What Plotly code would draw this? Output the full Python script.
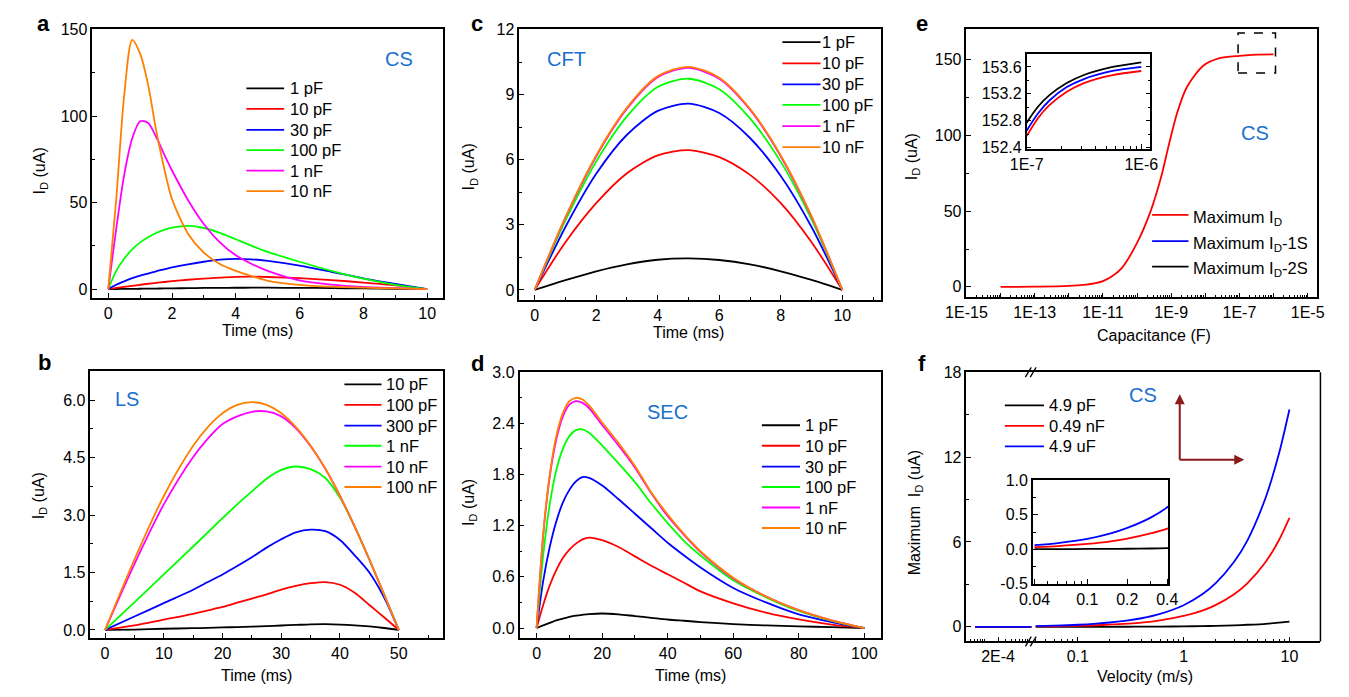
import plotly.graph_objects as go

W, H = 1349, 697
FONT = "Arial, Liberation Sans, sans-serif"
CS_BLUE = "#1a6fcf"
COLORS = ["#000000", "#FF0000", "#0000FF", "#00FF00", "#FF00FF", "#FF8000"]

# ---- panel a: CS, time in ms ----
time_a = [0, 0.25, 0.5, 0.75, 1.0, 1.25, 1.5, 1.75, 2.0, 2.5, 3.0, 3.5, 4.0, 4.5, 5, 6, 7, 8, 9, 10]
labels_a = ["1 pF", "10 pF", "30 pF", "100 pF", "1 nF", "10 nF"]
id_a_1pF = [0, 0.05, 0.1, 0.15, 0.2, 0.25, 0.32, 0.38, 0.45, 0.55, 0.65, 0.72, 0.78, 0.8, 0.8, 0.72, 0.58, 0.4, 0.2, 0]
id_a_10pF = [0, 0.7, 1.3, 1.9, 2.5, 3.1, 3.6, 4.1, 4.6, 5.4, 6.1, 6.6, 7.1, 7.2, 7.0, 6.3, 5.2, 3.8, 2.1, 0]
id_a_30pF = [0, 2.5, 4.5, 6.3, 7.8, 9.0, 10.3, 11.4, 12.5, 14.3, 15.8, 17.0, 17.5, 17.2, 16.3, 13.6, 10.0, 6.2, 3.0, 0]
id_a_100pF = [0, 10.5, 17.5, 23, 27, 30, 32.4, 34.2, 35.5, 36.5, 35.3, 32.5, 28.8, 25, 21.5, 15.8, 10.5, 6.0, 2.5, 0]
id_a_1nF = [0, 35, 66, 87, 97, 96, 88, 78, 68.5, 51.5, 37.5, 27, 19.5, 14.5, 10.5, 5, 2.6, 1.3, 0.6, 0]
id_a_10nF = [0, 52, 112, 144, 136, 118, 92, 70, 52, 32, 21, 14.5, 10.5, 7.5, 4.8, 2.5, 1.4, 0.8, 0.4, 0]

# ---- panel c: CFT ----
time_c = [0, 1, 2, 3, 4, 5, 6, 7, 8, 9, 10]
labels_c = ["1 pF", "10 pF", "30 pF", "100 pF", "1 nF", "10 nF"]
id_c_1pF = [0, 0.45, 0.86, 1.18, 1.39, 1.45, 1.38, 1.18, 0.86, 0.46, 0]
id_c_10pF = [0, 2.2, 4.0, 5.38, 6.2, 6.44, 6.12, 5.3, 4.0, 2.2, 0]
id_c_30pF = [0, 2.9, 5.35, 7.15, 8.25, 8.58, 8.15, 7.0, 5.25, 2.9, 0]
id_c_100pF = [0, 3.2, 5.92, 8.0, 9.35, 9.73, 9.25, 7.9, 5.9, 3.25, 0]
id_c_1nF = [0, 3.33, 6.15, 8.35, 9.8, 10.23, 9.73, 8.3, 6.15, 3.37, 0]
id_c_10nF = [0, 3.35, 6.2, 8.4, 9.85, 10.28, 9.78, 8.35, 6.2, 3.4, 0]

# ---- panel b: LS ----
time_b = [0, 5, 10, 15, 17.5, 20, 22.5, 25, 27.5, 30, 32.5, 35, 37.5, 40, 42.5, 45, 47.5, 50]
labels_b = ["10 pF", "100 pF", "300 pF", "1 nF", "10 nF", "100 nF"]
id_b_10pF = [0, 0.01, 0.03, 0.045, 0.055, 0.065, 0.075, 0.085, 0.1, 0.115, 0.13, 0.145, 0.15, 0.14, 0.12, 0.09, 0.05, 0]
id_b_100pF = [0, 0.12, 0.27, 0.42, 0.51, 0.6, 0.71, 0.82, 0.93, 1.05, 1.15, 1.22, 1.25, 1.18, 0.97, 0.65, 0.33, 0]
id_b_300pF = [0, 0.35, 0.7, 1.05, 1.25, 1.45, 1.67, 1.9, 2.15, 2.37, 2.55, 2.62, 2.58, 2.35, 1.95, 1.5, 0.85, 0]
id_b_1nF = [0, 0.72, 1.45, 2.18, 2.55, 2.92, 3.28, 3.62, 3.95, 4.18, 4.27, 4.2, 3.97, 3.45, 2.7, 1.84, 0.93, 0]
id_b_10nF = [0, 1.72, 3.28, 4.52, 5.0, 5.38, 5.58, 5.7, 5.71, 5.58, 5.27, 4.8, 4.21, 3.5, 2.7, 1.84, 0.93, 0]
id_b_100nF = [0, 1.84, 3.5, 4.81, 5.3, 5.66, 5.88, 5.95, 5.88, 5.66, 5.3, 4.81, 4.21, 3.5, 2.7, 1.84, 0.93, 0]

# ---- panel d: SEC ----
time_d = [0, 2, 4, 6, 8, 10, 12, 14, 16, 20, 25, 30, 35, 40, 45, 50, 60, 70, 80, 90, 100]
labels_d = ["1 pF", "10 pF", "30 pF", "100 pF", "1 nF", "10 nF"]
id_d_1pF = [0, 0.03, 0.06, 0.09, 0.11, 0.13, 0.145, 0.155, 0.163, 0.17, 0.16, 0.14, 0.12, 0.1, 0.085, 0.07, 0.046,
            0.03, 0.02, 0.01, 0]
id_d_10pF = [0, 0.27, 0.5, 0.68, 0.82, 0.92, 0.99, 1.04, 1.06, 1.03, 0.95, 0.84, 0.73, 0.63, 0.53, 0.43, 0.29, 0.18,
             0.1, 0.04, 0]
id_d_30pF = [0, 0.55, 0.95, 1.25, 1.47, 1.62, 1.72, 1.77, 1.76, 1.67, 1.51, 1.34, 1.17, 1.0, 0.85, 0.71, 0.47, 0.3,
             0.16, 0.07, 0]
id_d_100pF = [0, 0.85, 1.45, 1.85, 2.1, 2.25, 2.32, 2.33, 2.29, 2.14, 1.93, 1.71, 1.46, 1.23, 1.02, 0.85, 0.56, 0.36,
              0.2, 0.085, 0]
id_d_1nF = [0, 1.08, 1.77, 2.21, 2.48, 2.62, 2.66, 2.64, 2.58, 2.38, 2.14, 1.88, 1.58, 1.31, 1.09, 0.89, 0.58, 0.37,
            0.21, 0.09, 0]
id_d_10nF = [0, 1.1, 1.8, 2.25, 2.52, 2.66, 2.7, 2.68, 2.61, 2.41, 2.17, 1.9, 1.59, 1.33, 1.1, 0.9, 0.59, 0.37,
             0.21, 0.09, 0]

# ---- panel e: maximum I_D vs capacitance ----
labels_e = ["Maximum I<sub>D</sub>", "Maximum I<sub>D</sub>-1S", "Maximum I<sub>D</sub>-2S"]
cap_e = [1e-14, 1e-13, 1e-12, 3.2e-12, 5.6e-12, 1e-11, 1.8e-11, 3.5e-11, 1e-10, 2.5e-10, 5e-10, 8.5e-10,
         1.5e-9, 2.9e-9, 8.7e-9, 2.6e-8, 1e-7, 3.2e-7, 1e-6]
max_id_e = [0, 0.1, 0.6, 1.5, 2.3, 3.8, 6.8, 12.2, 29, 50, 72, 93.6, 115, 132, 146, 151, 152.57, 153.36, 153.54]
cap_inset_e = [1e-7, 1.26e-7, 1.58e-7, 2.24e-7, 3.16e-7, 5.62e-7, 1e-6]
inset_e_max = [152.57, 152.84, 153.03, 153.23, 153.36, 153.48, 153.54]
inset_e_1s = [152.65, 152.91, 153.1, 153.3, 153.42, 153.54, 153.6]
inset_e_2s = [152.77, 153.01, 153.18, 153.36, 153.48, 153.6, 153.67]

# ---- panel f: maximum I_D vs velocity ----
labels_f = ["4.9 pF", "0.49 nF", "4.9 uF"]
vel_left = [6.2e-5, 1.1e-3]
id_left = [0, 0]
vel_f = [0.04, 0.06, 0.1, 0.15, 0.2, 0.3, 0.4, 0.6, 1, 1.5, 2, 3, 4, 6, 8, 10]
id_f_49pF = [0.0015, 0.002, 0.004, 0.006, 0.007, 0.011, 0.015, 0.022, 0.037, 0.055, 0.074, 0.11, 0.15, 0.22, 0.3, 0.37]
id_f_049nF = [0.03, 0.046, 0.077, 0.115, 0.155, 0.23, 0.3, 0.46, 0.77, 1.15, 1.54, 2.31, 3.08, 4.62, 6.16, 7.7]
id_f_49uF = [0.06, 0.09, 0.15, 0.23, 0.31, 0.46, 0.61, 0.92, 1.53, 2.3, 3.07, 4.6, 6.1, 9.2, 12.3, 15.36]


def px(x):
    return x / W


def py(y):
    return 1 - y / H


def axis(x0, x1, rng, anchor, minor=None, **kw):
    d = dict(domain=[x0, x1], range=rng, anchor=anchor, showline=True, linecolor="black",
             linewidth=1.5, mirror=True, ticks="inside", ticklen=5, tickwidth=1.3,
             tickcolor="black", showgrid=False, zeroline=False,
             tickfont=dict(size=16, color="black", family=FONT))
    if minor is not None:
        m = dict(ticks="inside", ticklen=3, tickwidth=1.2, tickcolor="black", showgrid=False)
        m.update(minor)
        d["minor"] = m
    d.update(kw)
    return d


fig = go.Figure()


def add_lines(xs, series, xa, ya, colors=COLORS, spline=True):
    for ys, color in zip(series, colors):
        line = dict(color=color, width=1.8)
        if spline:
            line.update(shape="spline", smoothing=0.8)
        fig.add_trace(go.Scatter(x=xs, y=ys, mode="lines", xaxis=xa, yaxis=ya, showlegend=False, line=line))


add_lines(time_a, [id_a_1pF, id_a_10pF, id_a_30pF, id_a_100pF, id_a_1nF, id_a_10nF], "x", "y")
add_lines(time_c, [id_c_1pF, id_c_10pF, id_c_30pF, id_c_100pF, id_c_1nF, id_c_10nF], "x2", "y2")
add_lines(time_b, [id_b_10pF, id_b_100pF, id_b_300pF, id_b_1nF, id_b_10nF, id_b_100nF], "x4", "y4")
add_lines(time_d, [id_d_1pF, id_d_10pF, id_d_30pF, id_d_100pF, id_d_1nF, id_d_10nF], "x5", "y5")

# panel e main + inset
add_lines(cap_e, [max_id_e], "x3", "y3", colors=["#FF0000"])
add_lines(cap_inset_e, [inset_e_2s, inset_e_1s, inset_e_max], "x8", "y8", colors=["#000000", "#0000FF", "#FF0000"])

# panel f: left segment, right segment, inset
f_series = [id_f_49pF, id_f_049nF, id_f_49uF]
f_colors = ["#000000", "#FF0000", "#0000FF"]
add_lines(vel_left, [id_left] * 3, "x6", "y6", colors=f_colors, spline=False)
add_lines(vel_f, f_series, "x7", "y6", colors=f_colors)
add_lines(vel_f, f_series, "x9", "y9", colors=f_colors)

decades_e = [10.0 ** k for k in range(-15, -4)]
minor_e = [m * 10.0 ** k for k in range(-15, -5) for m in range(2, 10)]
minor_f = [m * 10.0 ** k for k in range(-2, 1) for m in range(2, 10)]
minor_left = [m * 1e-5 for m in range(5, 10)] + [1e-4] + [m * 1e-4 for m in range(3, 11)]

fig.update_layout(
    width=W, height=H, autosize=False, showlegend=False,
    margin=dict(l=0, r=0, t=0, b=0),
    paper_bgcolor="white", plot_bgcolor="white",
    font=dict(family=FONT, color="black", size=16),
    # a
    xaxis=axis(px(73), px(432), [-0.5, 10.5], "y", minor=dict(dtick=1), dtick=2, tick0=0),
    yaxis=axis(py(297), py(22), [-5, 150], "x", minor=dict(dtick=25), dtick=50, tick0=0),
    # c
    xaxis2=axis(px(510), px(880), [-0.5, 11.25], "y2", minor=dict(dtick=1), dtick=2, tick0=0),
    yaxis2=axis(py(299), py(22), [-0.45, 12], "x2", minor=dict(dtick=1.5), dtick=3, tick0=0),
    # e
    xaxis3=axis(px(967.7), px(1326.7), [-15.0, -4.72], "y3", type="log",
                tickvals=decades_e, ticktext=["1E%d" % k if k % 2 else " " for k in range(-15, -4)],
                minor=dict(tickvals=minor_e, ticklen=3)),
    yaxis3=axis(py(296.7), py(22), [-7, 170], "x3", minor=dict(dtick=25), dtick=50, tick0=0),
    # b
    xaxis4=axis(px(71), px(432.3), [-2.5, 57.6], "y4", minor=dict(dtick=5), dtick=10, tick0=0),
    yaxis4=axis(py(645.3), py(372.3), [-0.2, 6.76], "x4", minor=dict(dtick=0.75), dtick=1.5, tick0=0,
                tickformat=".1f"),
    # d
    xaxis5=axis(px(510.3), px(880.3), [-5.2, 105.1], "y5", minor=dict(dtick=10), dtick=20, tick0=0),
    yaxis5=axis(py(646), py(373.3), [-0.12, 3.0], "x5", minor=dict(dtick=0.3), dtick=0.6, tick0=0,
                tickformat=".1f"),
    # f left segment / right segment
    xaxis6=axis(px(967.7), px(1035), [-4.4, -2.94], "y6", type="log", tickvals=[2e-4], ticktext=["2E-4"],
                minor=dict(tickvals=minor_left)),
    xaxis7=axis(px(1035), px(1330), [-1.431, 1.293], "y6", type="log", tickvals=[0.1, 1, 10],
                ticktext=["0.1", "1", "10"], minor=dict(tickvals=minor_f)),
    yaxis6=axis(py(649.3), py(373.3), [-1.03, 18], "x6", minor=dict(dtick=3), dtick=6, tick0=0, mirror=False),
    # inset e
    xaxis8=axis(px(1029.3), px(1156), [-7, -5.92], "y8", type="log", tickvals=[1e-7, 1e-6],
                ticktext=["1E-7", "1E-6"], minor=dict(tickvals=[m * 1e-7 for m in range(2, 10)])),
    yaxis8=axis(py(144.3), py(46.7), [152.38, 153.8], "x8", minor=dict(dtick=0.2), dtick=0.4, tick0=152.4,
                tickformat=".1f", mirror="ticks"),
    # inset f
    xaxis9=axis(px(1035.7), px(1174.3), [-1.41, -0.39], "y9", type="log", tickvals=[0.04, 0.1, 0.2, 0.4],
                ticktext=["0.04", "0.1", "0.2", "0.4"],
                minor=dict(tickvals=[0.05, 0.06, 0.07, 0.08, 0.09, 0.3])),
    yaxis9=axis(py(590), py(484.3), [-0.5, 1.0], "x9", minor=dict(dtick=0.25), tickvals=[-0.5, 0, 0.5, 1.0],
                ticktext=["-0.5", "0.0", "0.5", "1.0"]),
)

ann = []
shapes = []


def text(x, y, s, size=16, color="black", angle=0, bold=False, xanchor="center"):
    ann.append(dict(x=px(x), y=py(y), xref="paper", yref="paper", text="<b>%s</b>" % s if bold else s,
                    showarrow=False, xanchor=xanchor, yanchor="middle", textangle=angle,
                    font=dict(size=size, color=color, family=FONT)))


def legend_block(x0, x1, xt, rows, names, colors, dy=0):
    for y, name, color in zip(rows, names, colors):
        shapes.append(dict(type="line", xref="paper", yref="paper", x0=px(x0), x1=px(x1), y0=py(y), y1=py(y),
                           line=dict(color=color, width=1.8)))
        text(xt, y + dy, name, size=16.5, xanchor="left")


legend_block(230.7, 269.3, 273, [82.3, 103.3, 125, 145.7, 166.7, 187.7], labels_a, COLORS)
legend_block(779.3, 818.3, 818, [35, 56.7, 78.3, 99.3, 121, 142.7], labels_c, COLORS)
legend_block(331, 369, 372, [385.7, 406.7, 428, 448.7, 470, 491], labels_b, COLORS)
legend_block(758.3, 797.3, 800.5, [427.7, 448.7, 470, 491, 512, 533], labels_d, COLORS)
legend_block(1157.7, 1195, 1198, [212, 239, 265], labels_e, ["#FF0000", "#0000FF", "#000000"], dy=3)
legend_block(1007, 1047, 1050, [407.3, 428.3, 449.3], labels_f, f_colors)

# panel letters
for letter, x, y in [("a", 23, 16), ("c", 467, 16), ("e", 922, 16), ("b", 24, 363), ("d", 467, 364), ("f", 922, 364)]:
    text(x, y, letter, size=22, bold=True)

# in-plot labels
text(387, 52, "CS", size=20, color=CS_BLUE)
text(558, 52, "CFT", size=20, color=CS_BLUE)
text(1263, 128, "CS", size=20, color=CS_BLUE)
text(108, 401, "LS", size=20, color=CS_BLUE)
text(662, 414, "SEC", size=20, color=CS_BLUE)
text(1148, 397, "CS", size=20, color=CS_BLUE)

# axis titles
text(242, 331, "Time (ms)")
text(683, 333, "Time (ms)")
text(1160, 336, "Capacitance (F)")
text(241, 684, "Time (ms)")
text(685, 684, "Time (ms)")
text(1150, 685, "Velocity (m/s)")
text(20, 167, "I<sub>D</sub> (uA)", angle=-90)
text(459, 163, "I<sub>D</sub> (uA)", angle=-90)
text(912, 153, "I<sub>D</sub> (uA)", angle=-90)
text(19, 500, "I<sub>D</sub> (uA)", angle=-90)
text(459, 507, "I<sub>D</sub> (uA)", angle=-90)
text(915, 517, "Maximum  I<sub>D</sub> (uA)", angle=-90)

# arrows in f
arrow = dict(xref="paper", yref="paper", axref="pixel", ayref="pixel", text="", showarrow=True,
             arrowcolor="#8B1A1A", arrowwidth=2, arrowhead=2, arrowsize=1)
ann.append(dict(arrow, x=px(1186), y=py(396), ax=0, ay=67))
ann.append(dict(arrow, x=px(1252), y=py(463), ax=-66, ay=0))

# dashed zoom box in e
shapes.append(dict(type="rect", xref="paper", yref="paper", x0=px(1245.7), x1=px(1284), y0=py(66.7), y1=py(25.7),
                   line=dict(color="black", width=1.5, dash="dash")))
# right border of f
shapes.append(dict(type="line", xref="paper", yref="paper", x0=px(1330), x1=px(1330), y0=py(649.3), y1=py(373.3),
                   line=dict(color="black", width=1.5)))
# axis break marks in f
for yb in (373.3, 649.3):
    for dx in (-4, 1):
        shapes.append(dict(type="line", xref="paper", yref="paper", x0=px(1035 + dx - 3), y0=py(yb + 5),
                           x1=px(1035 + dx + 3), y1=py(yb - 5), line=dict(color="black", width=1.3)))

fig.update_layout(annotations=ann, shapes=shapes)

fig.write_html("out.html", config={"displayModeBar": False},
               post_script="document.body.style.margin='0';document.documentElement.style.overflow='hidden';")
